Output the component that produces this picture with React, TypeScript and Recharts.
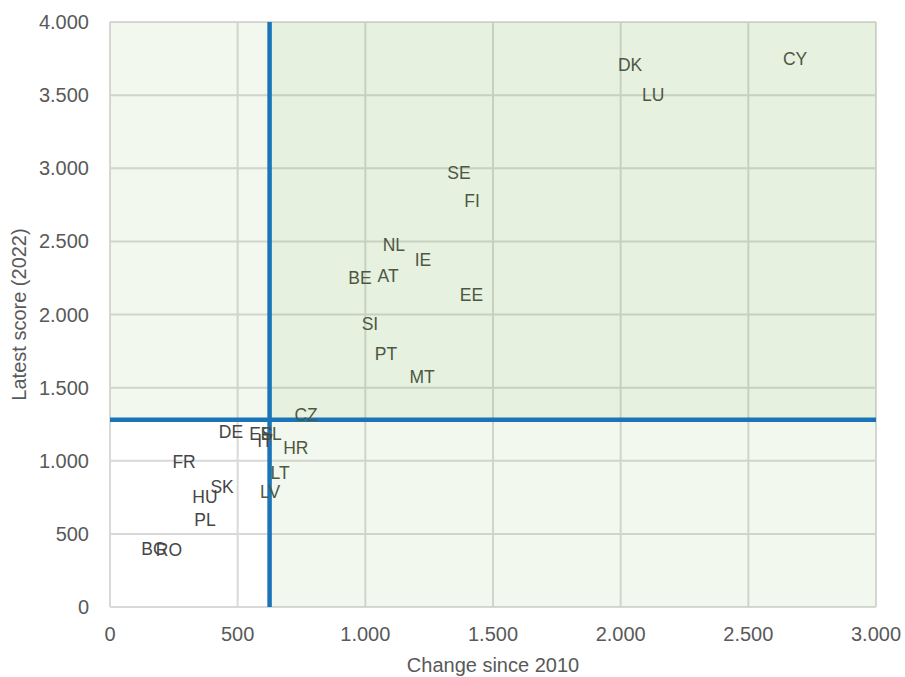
import React from 'react'
import {
  ScatterChart, Scatter, XAxis, YAxis, CartesianGrid, ReferenceArea,
  ReferenceLine, Label,
} from 'recharts'

const countries = ['CY', 'DK', 'LU', 'SE', 'FI', 'NL', 'IE', 'BE', 'AT', 'EE', 'SI', 'PT', 'MT', 'CZ',
  'DE', 'ES', 'EL', 'IT', 'HR', 'FR', 'SK', 'HU', 'LT', 'LV', 'PL', 'BG', 'RO']
const change = [2683, 2037, 2127, 1367, 1418, 1112, 1226, 979, 1089, 1416, 1018, 1081, 1222, 768,
  474, 591, 631, 607, 728, 290, 439, 372, 666, 627, 372, 172, 231]
const score = [3747, 3706, 3501, 2971, 2779, 2479, 2376, 2253, 2267, 2137, 1938, 1733, 1573, 1313,
  1200, 1186, 1186, 1138, 1091, 995, 824, 756, 920, 784, 598, 400, 393]

const xTicks = [0, 500, 1000, 1500, 2000, 2500, 3000]
const yTicks = [0, 500, 1000, 1500, 2000, 2500, 3000, 3500, 4000]

// thresholds for the quadrant split
const X_SPLIT = 625
const Y_SPLIT = 1280

const data = countries.map((name, i) => ({ name, x: change[i], y: score[i] }))

const GREEN = '#70ad47'
const BLUE = '#1a74b8'
const AXIS_TEXT = '#595959'
const FONT = '"Liberation Sans", Arial, sans-serif'

const fmt = (v: number) => String(v).replace(/\B(?=(\d{3})+(?!\d))/g, '.')

function CountryLabel(props: any) {
  const { cx, cy, payload } = props
  const shaded = payload.x >= X_SPLIT || payload.y >= Y_SPLIT
  return (
    <text x={cx} y={cy} dy="0.35em" textAnchor="middle" fontSize={17.5} fontFamily={FONT}
      fill={shaded ? '#4d5843' : '#454545'}>
      {payload.name}
    </text>
  )
}

export default function App() {
  return (
    <div style={{ position: 'absolute', left: 0, top: 0, width: 905, height: 677, background: '#fff' }}>
      <ScatterChart width={905} height={677} margin={{ top: 22, right: 29, left: 0, bottom: 0 }}>
        <CartesianGrid stroke="#d9d9d9" strokeWidth={2} horizontalValues={yTicks} verticalValues={xTicks} />
        <XAxis type="number" dataKey="x" domain={[0, 3000]} ticks={xTicks} tickFormatter={fmt}
          axisLine={false} tickLine={false} tickMargin={14} height={70}
          tick={{ fontSize: 20, fill: AXIS_TEXT, fontFamily: FONT }}>
          <Label value="Change since 2010" position="insideBottom" offset={5}
            style={{ fontSize: 20, fill: AXIS_TEXT, fontFamily: FONT }} />
        </XAxis>
        <YAxis type="number" dataKey="y" domain={[0, 4000]} ticks={yTicks} tickFormatter={fmt}
          axisLine={false} tickLine={false} tickMargin={15} width={110}
          tick={{ fontSize: 20, fill: AXIS_TEXT, fontFamily: FONT }}>
          <Label value="Latest score (2022)" angle={-90} position="insideLeft" offset={19}
            style={{ fontSize: 20, fill: AXIS_TEXT, fontFamily: FONT, textAnchor: 'middle' }} />
        </YAxis>
        <ReferenceArea x1={0} x2={X_SPLIT} y1={Y_SPLIT} y2={4000} fill={GREEN} fillOpacity={0.09} stroke="none" />
        <ReferenceArea x1={X_SPLIT} x2={3000} y1={Y_SPLIT} y2={4000} fill={GREEN} fillOpacity={0.17} stroke="none" />
        <ReferenceArea x1={X_SPLIT} x2={3000} y1={0} y2={Y_SPLIT} fill={GREEN} fillOpacity={0.09} stroke="none" />
        <ReferenceLine x={X_SPLIT} stroke={BLUE} strokeWidth={4.5} />
        <ReferenceLine y={Y_SPLIT} stroke={BLUE} strokeWidth={4.5} />
        <Scatter data={data} shape={CountryLabel} isAnimationActive={false} />
      </ScatterChart>
    </div>
  )
}
